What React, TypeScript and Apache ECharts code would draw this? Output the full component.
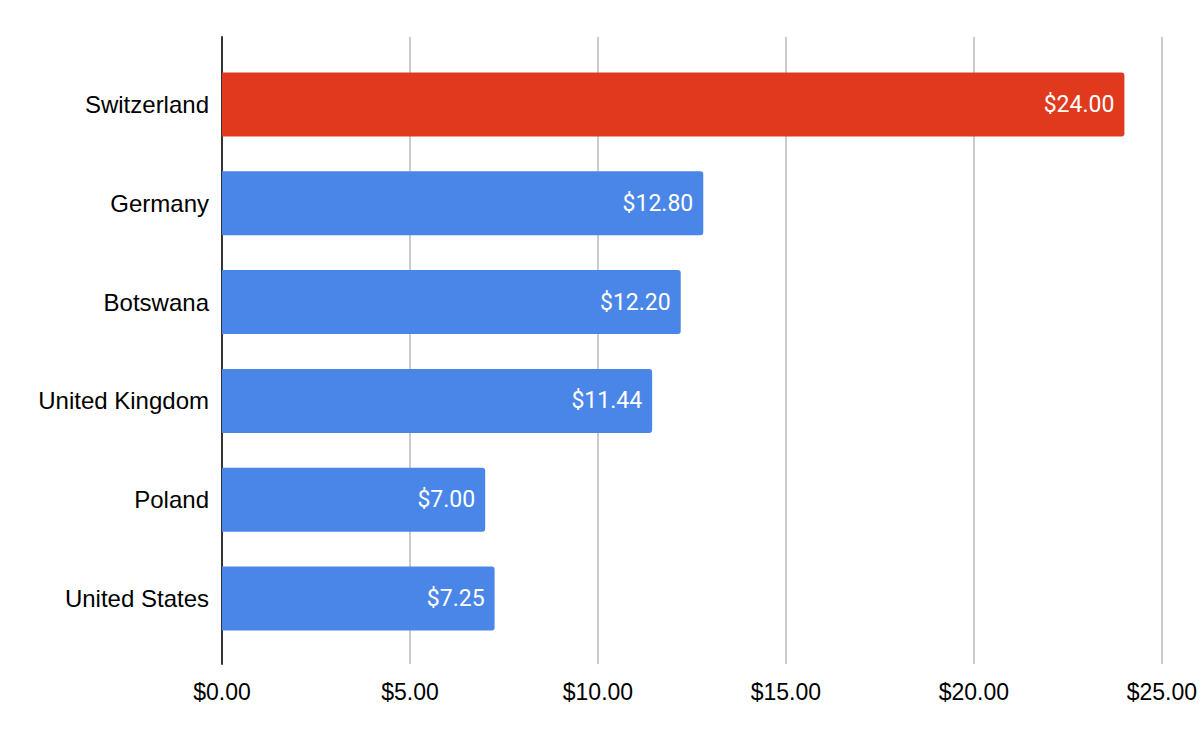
import React, { useEffect, useRef } from 'react';
import * as echarts from 'echarts';

const countries = ['Switzerland', 'Germany', 'Botswana', 'United Kingdom', 'Poland', 'United States'];
const wages = [24.0, 12.8, 12.2, 11.44, 7.0, 7.25];
const highlight = 'Switzerland';

const BLUE = '#4a86e8';
const RED = '#e0391e';

const money = (v: number) => '$' + v.toFixed(2);

export default function App() {
  const chartRef = useRef<HTMLDivElement>(null);

  useEffect(() => {
    if (!chartRef.current) return;
    document.body.style.margin = '0';
    const chart = echarts.init(chartRef.current, null, { renderer: 'svg' });

    const option: echarts.EChartsOption = {
      animation: false,
      backgroundColor: '#ffffff',
      grid: [
        // frame grid: gridlines, x labels, zero line
        { left: 222, right: 38, top: 37, bottom: 78 },
        // bar grid: categories
        { left: 222, right: 38, top: 55, bottom: 94 }
      ],
      xAxis: [
        {
          type: 'value',
          gridIndex: 0,
          min: 0,
          max: 25,
          interval: 5,
          axisLine: { show: false },
          axisTick: { show: false },
          splitLine: { show: true, lineStyle: { color: '#cccccc', width: 2 } },
          axisLabel: {
            formatter: (v: number) => money(v),
            color: '#000000',
            fontFamily: 'Liberation Sans, Arial, sans-serif',
            fontSize: 23,
            margin: 16
          }
        },
        {
          type: 'value',
          gridIndex: 1,
          min: 0,
          max: 25,
          show: false
        }
      ],
      yAxis: [
        {
          type: 'value',
          gridIndex: 0,
          axisLine: { show: true, lineStyle: { color: '#333333', width: 2 } },
          axisTick: { show: false },
          axisLabel: { show: false },
          splitLine: { show: false }
        },
        {
          type: 'category',
          gridIndex: 1,
          inverse: true,
          data: countries,
          axisLine: { show: false },
          axisTick: { show: false },
          axisLabel: {
            color: '#000000',
            fontFamily: 'Liberation Sans, Arial, sans-serif',
            fontSize: 24,
            margin: 13
          }
        }
      ],
      series: [
        {
          type: 'bar',
          xAxisIndex: 1,
          yAxisIndex: 1,
          barWidth: 64,
          data: wages.map((v, i) => ({
            value: v,
            itemStyle: { color: countries[i] === highlight ? RED : BLUE }
          })),
          itemStyle: { borderRadius: [0, 3, 3, 0] },
          label: {
            show: true,
            position: 'insideRight',
            distance: 10,
            color: '#ffffff',
            fontFamily: 'Roboto, sans-serif',
            fontSize: 23,
            formatter: (p: any) => money(p.value)
          }
        }
      ]
    };

    chart.setOption(option);

    return () => {
      chart.dispose();
    };
  }, []);

  return (
    <div
      ref={chartRef}
      style={{ position: 'absolute', left: 0, top: 0, width: '1200px', height: '742px' }}
    />
  );
}
